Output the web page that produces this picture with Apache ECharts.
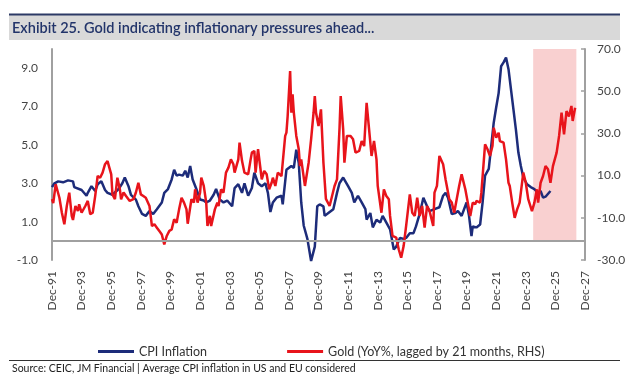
<!DOCTYPE html>
<html>
<head>
<meta charset="utf-8">
<script src="https://cdn.jsdelivr.net/npm/echarts@6/dist/echarts.min.js"></script>
<style>
html,body{margin:0;padding:0;background:#fff;}
#chart{width:640px;height:374px;}
</style>
</head>
<body>
<div id="chart"></div>
<script>
// x positions are months since Dec-1991
var tickLabelsLeft = ['-1.0','1.0','3.0','5.0','7.0','9.0'];
var tickLabelsRight = ['-30.0','-10.0','10.0','30.0','50.0','70.0'];

var cpiMonths = [0,2,5,9,13,17,18,24,28,29,32,35,37,40,43,45,49,54,57,59,62,64,68,70,73,76,79,82,85,89,91,94,97,99,101,103,106,108,110,112,114,117,120,123,125,128,131,133,136,139,142,146,148,151,154,156,159,162,164,167,170,173,175,177,179,182,186,187,190,194,196,198,200,202,204,207,210,213,215,217,220,221,224,228,231,233,236,237,240,243,245,248,251,254,255,258,260,263,266,268,271,274,277,279,282,285,287,290,293,295,298,301,304,306,310,314,317,319,321,324,327,329,332,336,338,340,341,344,347,349,351,354,356,358,360,362,364,366,368,370,372,374,376,378,380,382,385,388,391,394,396,398,400,404];
var cpiValues = [2.8,3.0,3.1,3.05,3.15,3.1,2.8,2.65,2.35,2.5,2.85,2.6,2.95,3.1,2.65,2.5,2.4,2.7,3.0,3.3,2.85,2.4,2.15,1.8,1.4,1.3,1.55,1.4,1.65,2.0,2.5,2.7,3.2,3.7,3.4,3.45,3.4,3.65,3.3,3.9,3.2,2.7,2.15,2.1,2.0,2.1,2.4,2.7,2.15,2.0,2.1,1.8,2.75,2.95,2.5,3.0,2.35,2.75,3.55,3.0,2.85,3.0,2.5,1.5,2.0,2.25,2.35,1.9,3.7,3.9,3.8,4.75,4.05,2.0,0.8,0.1,-1.05,-0.3,1.8,1.9,1.8,1.3,1.45,1.65,2.5,3.0,3.3,3.2,2.85,2.5,2.0,2.35,2.0,1.65,1.1,1.45,0.7,1.1,0.95,1.3,0.95,0.6,-0.45,-0.3,0.15,0.1,0.15,0.4,0.4,0.75,1.4,2.25,1.8,1.55,1.65,1.75,2.35,2.5,2.25,1.4,1.45,1.55,1.3,2.0,1.3,0.25,0.75,0.7,0.85,2.0,3.4,3.75,4.95,6.15,6.95,7.7,9.1,9.3,9.55,8.95,7.9,6.85,5.8,4.6,3.9,3.3,2.95,2.8,2.7,2.5,2.6,2.25,2.3,2.6];

var goldMonths = [0,1,3,4,6,8,10,12,14,16,17,19,21,22,24,27,29,31,33,35,37,39,41,43,45,48,49,51,53,55,56,58,60,63,66,68,70,72,74,76,79,81,83,85,87,89,91,93,95,97,99,101,103,105,107,109,110,113,115,116,118,120,121,123,125,126,128,129,132,134,135,137,139,141,143,145,147,148,151,152,154,156,159,161,162,164,165,167,169,170,172,174,176,178,179,181,183,186,187,189,190,191,193,194,195,196,198,200,201,202,205,206,208,210,212,213,214,216,218,220,222,225,227,229,231,233,234,236,237,239,242,244,246,249,251,253,255,257,259,261,263,264,267,269,271,273,274,276,279,281,283,285,287,290,292,294,296,298,300,302,304,306,309,310,312,314,317,319,320,322,324,326,328,330,332,333,335,337,339,341,343,344,347,348,351,353,355,357,358,360,362,363,366,368,370,371,373,375,377,379,382,384,386,389,391,393,394,396,398,400,402,404,406,409,411,413,415,417,419,421,422,424];
var goldValues = [-1.2,-3.0,5.9,6.6,-0.5,-7.6,-13.1,-4.4,1.9,-9.1,-11,-4.4,-6.8,-3.6,-7.6,-4.4,-2.0,-8.3,-7.6,0.3,9.8,9.0,11.4,15.4,16.9,10.6,1.1,-1.2,9.0,3.5,-1.2,2.0,0.3,-2.0,-1.2,2.0,6.6,1.1,0.3,-0.5,-4.4,-13.9,-13.1,-14.7,-16.3,-17.9,-22.6,-18.6,-16.3,-15.5,-10.7,-12.3,-6.0,-0.5,-2.8,-6.0,-12.8,-1.2,-2.8,3.5,-2.8,1.9,9.0,5.1,-2.8,-13.9,-9.1,-13.9,-6.0,-2.8,-4.4,3.5,1.9,11.4,13.8,17.7,15.4,11.4,17.7,25.6,17.0,11.4,10.6,17.7,20.9,21.7,11.4,22.5,13.0,8.2,12.2,10.6,3.5,6.6,9.0,5.1,11.4,9.8,16.1,28.8,30.4,38.2,59.6,39.8,48.5,39.8,28.8,22.5,14.5,17.7,5.1,4.3,16.1,27.2,39.8,47.7,39.8,33.5,41.4,16.1,-1.0,-4.4,0.3,5.1,8.2,31.9,47.7,31.9,16.1,28.8,28.8,27.2,20.9,21.7,26.4,24.0,44.5,31.9,19.3,26.4,17.7,5.1,-7.6,3.5,0.3,-1.2,-9.1,-18.6,-19.4,-24.9,-28.9,-23.4,-13.9,1.1,-7.6,-9.1,-0.5,-9.1,-4.4,-14.7,-4.4,-6.8,-13.9,1.9,5.1,19.3,15.4,8.2,5.1,-1.2,-2.8,-7.6,-1.2,5.1,10.6,8.2,3.5,-2.8,-9.1,-2.8,-3.6,-2.0,-2.8,1.9,24.8,22.5,19.3,24.0,32.7,28.0,30.3,26.4,25.6,17.7,6.6,5.1,-2.8,-10.0,-6.0,-2.8,11.4,6.6,-1.2,-6.8,-2.8,3.5,-2.8,6.6,9.8,14.5,13.0,6.6,14.5,20.9,28.8,39.8,29.6,40.6,38.0,43.0,35.9,42.2];

var shadeStart = 390, shadeEnd = 425;

function zip(xs, ys){ return xs.map(function(x,i){ return [x, ys[i]]; }); }
function monthLabel(m){
  var y = 1991 + Math.round(m/12);
  var yy = String(y % 100); if (yy.length < 2) yy = '0' + yy;
  return 'Dec-' + yy;
}

var FONT = 'Lato';
var chart = echarts.init(document.getElementById('chart'), null, {renderer:'canvas'});
chart.setOption({
  animation: false,
  backgroundColor: '#ffffff',
  textStyle: {fontFamily: FONT},
  grid: {left: 52, right: 55, top: 49, bottom: 114, containLabel: false},
  graphic: [
    {type:'rect', shape:{x:9, y:15, width:611, height:25}, style:{fill:'#d9d9d9'}, silent:true},
    {type:'line', shape:{x1:9, y1:14.5, x2:620, y2:14.5}, style:{stroke:'#2c3a66', lineWidth:2}, silent:true},
    {type:'text', x:12, y:28, style:{text:'Exhibit 25. Gold indicating inflationary pressures ahead...', fill:'#22346a', font:'600 14.5px Lato', textVerticalAlign:'middle'}, silent:true},
    {type:'line', shape:{x1:9, y1:360.5, x2:620, y2:360.5}, style:{stroke:'#333', lineWidth:1}, silent:true},
    {type:'text', x:12, y:369, style:{text:'Source: CEIC, JM Financial | Average CPI inflation in US and EU considered', fill:'#222', font:'10.5px Lato', textVerticalAlign:'middle'}, silent:true}
  ],
  legend: {
    left: 93, top: 340, itemWidth: 36, itemHeight: 3, itemGap: 80,
    icon: 'rect',
    textStyle: {fontFamily: FONT, fontSize: 12.5, color: '#333'},
    data: ['CPI Inflation', 'Gold (YoY%, lagged by 21 months, RHS)']
  },
  xAxis: {
    type: 'value', min: 0, max: 432, interval: 24,
    axisLine: {show: false}, axisTick: {show: false}, splitLine: {show: false},
    axisLabel: {rotate: 90, margin: 11, fontSize: 12, color: '#444', fontFamily: FONT,
      formatter: function(v){ return monthLabel(v); }}
  },
  yAxis: [
    {type: 'value', min: -1, max: 10, interval: 2, position: 'left',
     axisLine: {show: true, lineStyle: {color: '#a0a0a0', width: 2}},
     axisTick: {show: false}, splitLine: {show: false},
     axisLabel: {showMaxLabel: false, margin: 14, fontSize: 12, color: '#444', fontFamily: FONT,
       formatter: function(v){ return v.toFixed(1); }}},
    {type: 'value', min: -30, max: 70, interval: 20, position: 'right',
     axisLine: {show: true, lineStyle: {color: '#a0a0a0', width: 2}},
     axisTick: {show: true, inside: true, length: 4, lineStyle: {color: '#a0a0a0', width: 1.5}},
     splitLine: {show: false},
     axisLabel: {margin: 12, fontSize: 12, color: '#444', fontFamily: FONT,
       formatter: function(v){ return v.toFixed(1); }}}
  ],
  series: [
    {name: 'shade', type: 'line', data: [], z: 1, silent: true,
     markArea: {silent: true, itemStyle: {color: '#f9d0d0'},
       data: [[{xAxis: shadeStart, yAxis: 0}, {xAxis: shadeEnd, yAxis: 10}]]},
     markLine: {silent: true, symbol: 'none', label: {show: false},
       lineStyle: {color: '#a0a0a0', width: 2, type: 'solid'},
       data: [{yAxis: 0}]}},
    {name: 'CPI Inflation', type: 'line', yAxisIndex: 0, data: zip(cpiMonths, cpiValues),
     showSymbol: false, symbol: 'none', clip: false, z: 3,
     lineStyle: {color: '#1d2c7a', width: 2.5}, itemStyle: {color: '#1d2c7a'}},
    {name: 'Gold (YoY%, lagged by 21 months, RHS)', type: 'line', yAxisIndex: 1, data: zip(goldMonths, goldValues),
     showSymbol: false, symbol: 'none', clip: false, z: 4,
     lineStyle: {color: '#e8141b', width: 2.5}, itemStyle: {color: '#e8141b'}}
  ]
});
</script>
</body>
</html>
